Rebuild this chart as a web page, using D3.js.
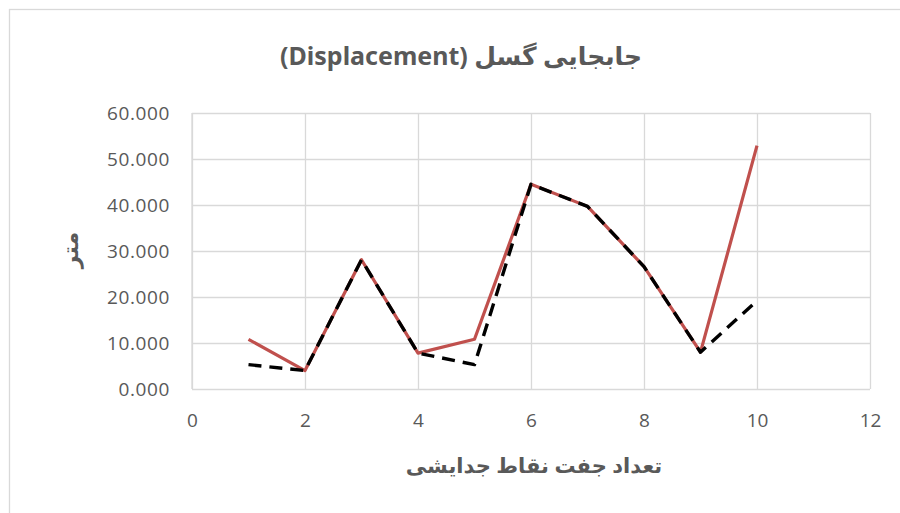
<!DOCTYPE html>
<html>
<head>
<meta charset="utf-8">
<script src="https://cdn.jsdelivr.net/npm/d3@7"></script>
<style>
  body { margin: 0; background: #fff; }
  .gridlines line { stroke: #d9d9d9; stroke-width: 1.3; }
  .gridlines .domain { stroke: none; }
  .axis text { fill: #595959; font-family: "Open Sans", "Noto Sans", sans-serif; font-size: 19px; }
  .axis .domain { stroke: none; }
  .axis line { stroke: none; }
</style>
</head>
<body>
<svg id="chart" width="900" height="513"></svg>
<script>
// data
const pairs = [1, 2, 3, 4, 5, 6, 7, 8, 9, 10];
const redSeries = [10.8, 4.0, 28.1, 7.8, 10.8, 44.5, 39.7, 26.6, 8.0, 52.9];
const blackSeries = [5.3, 4.0, 28.1, 7.8, 5.3, 44.5, 39.7, 26.6, 8.0, 19.2];
const xTicks = [0, 2, 4, 6, 8, 10, 12];
const yTicks = [0, 10, 20, 30, 40, 50, 60];

const svg = d3.select("#chart");
const width = +svg.attr("width");
const height = +svg.attr("height");

// outer chart frame
svg.append("rect").attr("x", 9.5).attr("y", 9.5).attr("width", width).attr("height", height)
  .attr("fill", "#fff").attr("stroke", "#d9d9d9").attr("stroke-width", 1.3);

const margin = { top: 113, left: 192 };
const chartW = 870 - margin.left;
const chartH = 389 - margin.top;

const x = d3.scaleLinear().domain([0, 12]).range([0, chartW]);
const y = d3.scaleLinear().domain([0, 60]).range([chartH, 0]);

const g = svg.append("g").attr("transform", `translate(${margin.left},${margin.top})`);

// gridlines
g.append("g").attr("class", "gridlines")
  .call(d3.axisLeft(y).tickValues(yTicks).tickSize(-chartW).tickFormat(""));
g.append("g").attr("class", "gridlines")
  .call(d3.axisBottom(x).tickValues(xTicks).tickSize(chartH).tickFormat(""));

// axes
g.append("g").attr("class", "axis")
  .call(d3.axisLeft(y).tickValues(yTicks).tickSize(0).tickPadding(22).tickFormat(d3.format(".3f")))
  .selectAll("text").style("letter-spacing", "0.6px");
g.append("line").attr("x1", 0).attr("x2", 0).attr("y1", 0).attr("y2", chartH)
  .attr("stroke", "#d9d9d9").attr("stroke-width", 1.3);

g.append("g").attr("class", "axis").attr("transform", `translate(0,${chartH})`)
  .call(d3.axisBottom(x).tickValues(xTicks).tickSize(0).tickPadding(25));

// lines
const line = d3.line().x((d, i) => x(pairs[i])).y(d => y(d));

g.append("path").datum(redSeries).attr("d", line)
  .attr("fill", "none").attr("stroke", "#c0504d").attr("stroke-width", 3.2)
  .attr("stroke-linejoin", "round");

g.append("path").datum(blackSeries).attr("d", line)
  .attr("fill", "none").attr("stroke", "#000").attr("stroke-width", 3.4)
  .attr("stroke-dasharray", "13,8").attr("stroke-linejoin", "round");

// titles
const titleFont = "'Noto Sans', 'DejaVu Sans', sans-serif";
svg.append("text").attr("x", 461).attr("y", 65).attr("text-anchor", "middle")
  .style("font-family", titleFont).style("font-weight", "bold")
  .style("font-size", "25px").style("fill", "#595959")
  .attr("direction", "rtl")
  .text("جابجایی گسل (Displacement)");

svg.append("text").attr("x", 534).attr("y", 473).attr("text-anchor", "middle")
  .style("font-family", titleFont).style("font-weight", "bold")
  .style("font-size", "21px").style("fill", "#595959")
  .attr("direction", "rtl")
  .text("تعداد جفت نقاط جدایشی");

svg.append("text").attr("transform", "translate(70,250) rotate(-90)").attr("text-anchor", "middle")
  .attr("dy", "0.35em")
  .style("font-family", titleFont).style("font-weight", "bold")
  .style("font-size", "22px").style("fill", "#595959")
  .attr("direction", "rtl")
  .text("متر");
</script>
</body>
</html>
